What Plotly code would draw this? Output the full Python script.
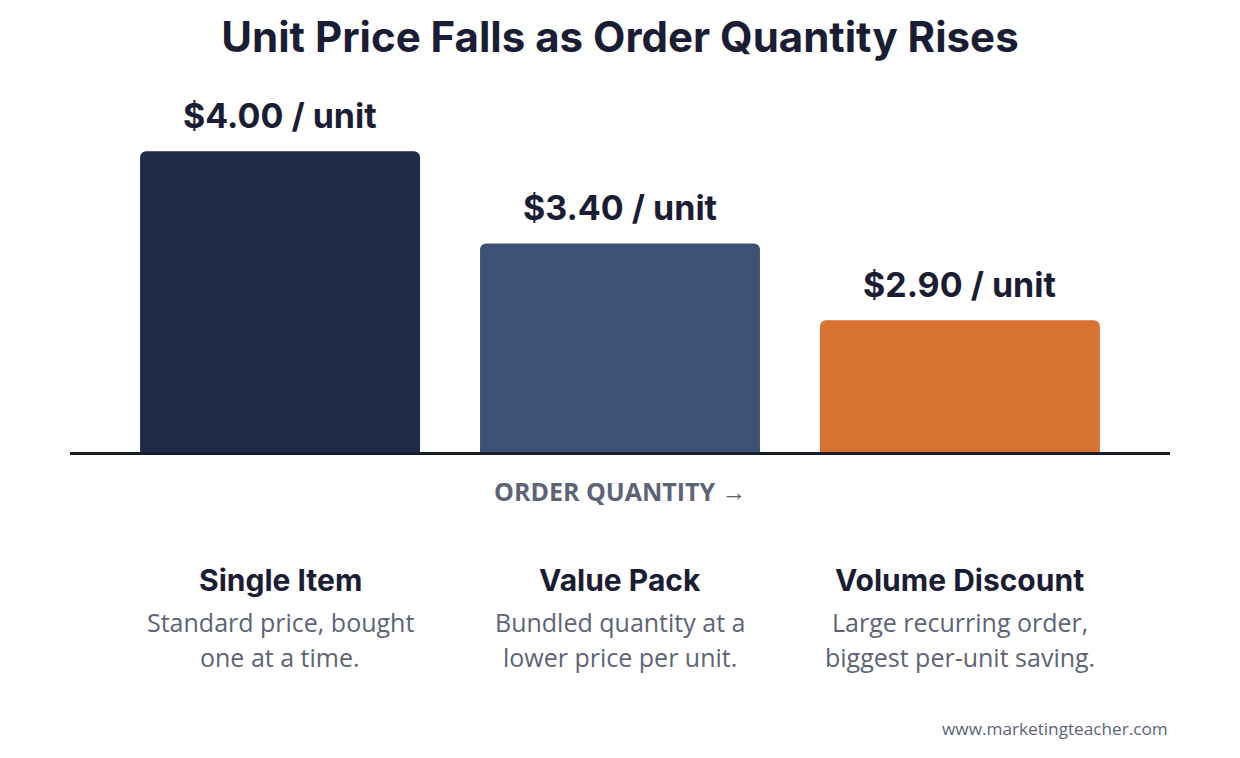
import plotly.graph_objects as go

tiers = ["Single Item", "Value Pack", "Volume Discount"]
unit_price = [4.00, 3.40, 2.90]
price_labels = ["$4.00 / unit", "$3.40 / unit", "$2.90 / unit"]
descriptions = [
    "Standard price, bought<br>one at a time.",
    "Bundled quantity at a<br>lower price per unit.",
    "Large recurring order,<br>biggest per-unit saving.",
]
bar_colors = ["#1f2a48", "#3e5176", "#d87230"]

HEAD = "Inter"
BODY = "Open Sans"

fig = go.Figure(go.Bar(
    x=tiers, y=unit_price,
    marker=dict(color=bar_colors, line=dict(width=0)),
    width=0.8235,
    hoverinfo="skip",
))

# price labels above each bar
for t, v, lab in zip(tiers, unit_price, price_labels):
    fig.add_annotation(x=t, y=v, text="<b>" + lab + "</b>", showarrow=False,
                       yanchor="middle", yshift=36,
                       font=dict(family=HEAD, size=34, color="#1a1d33"))

# tier names and descriptions under the axis
for t, d in zip(tiers, descriptions):
    fig.add_annotation(x=t, xref="x", y=-0.354, yref="paper", text="<b>" + t + "</b>",
                       showarrow=False, yanchor="middle",
                       font=dict(family=HEAD, size=30, color="#1a1d33"))
    for i, line in enumerate(d.split("<br>")):
        fig.add_annotation(x=t, xref="x", y=-0.470 - i * 0.097, yref="paper", text=line,
                           showarrow=False, yanchor="middle",
                           font=dict(family=BODY, size=25, color="#5d6477"))

fig.add_annotation(x=0.5, xref="paper", y=-0.108, yref="paper",
                   text="<b>ORDER QUANTITY</b> →", showarrow=False, yanchor="middle",
                   font=dict(family=BODY, size=25, color="#5d6477"))

fig.add_annotation(x=1, xref="paper", y=-0.765, yref="paper", xanchor="right",
                   text="www.marketingteacher.com", showarrow=False, yanchor="middle",
                   font=dict(family=BODY, size=17.2, color="#5d6477"))

fig.update_layout(
    width=1232, height=750,
    margin=dict(l=62, r=70, t=82, b=306),
    paper_bgcolor="white", plot_bgcolor="white",
    barcornerradius=6,
    showlegend=False,
    title=dict(text="<b>Unit Price Falls as Order Quantity Rises</b>",
               x=0.5, xref="paper", xanchor="center", y=1 - 29 / 750, yanchor="middle",
               font=dict(family=HEAD, size=42, color="#1a1d33")),
    xaxis=dict(range=[-0.618, 2.618], showticklabels=False, showgrid=False,
               zeroline=False, showline=True, linecolor="#1b1d2e", linewidth=3,
               ticks=""),
    yaxis=dict(range=[2.043, 4.398], visible=False, fixedrange=True),
)

fig.write_html("out.html")
